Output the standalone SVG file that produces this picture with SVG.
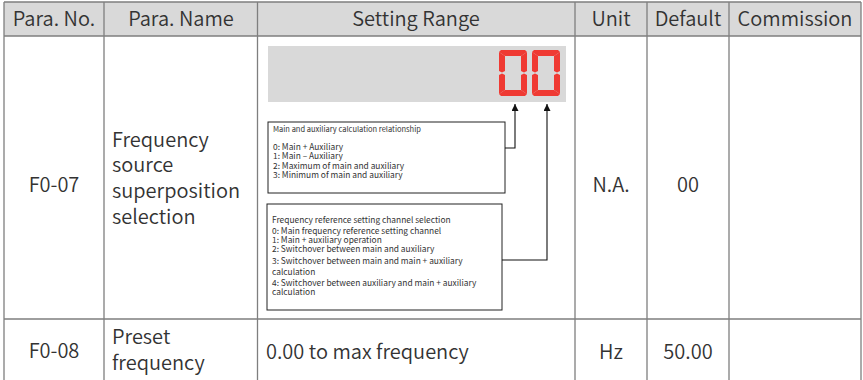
<svg xmlns="http://www.w3.org/2000/svg" width="863" height="380" viewBox="0 0 863 380">
<style>
.grid{stroke:#7f7f7f;stroke-width:1.3;fill:none}
.t{font-family:"Noto Sans CJK SC","Noto Sans",sans-serif;font-weight:350;fill:#333;font-size:20px}
.c{text-anchor:middle}
.s{font-family:"Noto Sans CJK SC","Noto Sans",sans-serif;font-weight:400;fill:#333;font-size:8.4px}
.st{font-size:7.5px}
.box{fill:#fff;stroke:#222;stroke-width:1}
.seg{fill:#ef3a33}
.conn{fill:none;stroke:#111;stroke-width:1.1}
</style>
<defs>
<marker id="ah" viewBox="0 0 10 10" refX="10" refY="5" markerWidth="7" markerHeight="7" orient="auto" markerUnits="userSpaceOnUse">
<path d="M0,0 L10,5 L0,10 Z" fill="#111"/>
</marker>
<g id="d0" class="seg">
<path d="M0,2 L2,0 L26,0 L28,2 L22,6 L6,6 Z"/>
<path d="M0,44 L6,40 L22,40 L28,44 L26,46 L2,46 Z"/>
<path d="M0,2 L6,6 L6,21 L3,22.4 L0,21 Z"/>
<path d="M0,25 L3,23.6 L6,25 L6,40 L0,44 Z"/>
<path d="M28,2 L28,21 L25,22.4 L22,21 L22,6 Z"/>
<path d="M28,25 L28,44 L22,40 L22,25 L25,23.6 Z"/>
</g>
</defs>
<rect width="863" height="380" fill="#fff"/>
<g id="table">
<rect x="4" y="2" width="857" height="34" fill="#d9d9d9"/>
<path class="grid" d="M4,2 H861 M4,36 H861 M4,319 H861 M4,2 V380 M104,2 V380 M257.5,2 V380 M575,2 V380 M647,2 V380 M729,2 V380 M861,2 V380"/>
</g>
<g id="header">
<text class="t c" x="54" y="26">Para. No.</text>
<text class="t c" x="181" y="26">Para. Name</text>
<text class="t c" x="416" y="26">Setting Range</text>
<text class="t c" x="611" y="26">Unit</text>
<text class="t c" x="688" y="26">Default</text>
<text class="t c" x="795" y="26">Commission</text>
</g>
<g id="row-f007">
<text class="t c" x="54" y="192">F0-07</text>
<text class="t" x="112" y="147">Frequency</text>
<text class="t" x="112" y="172">source</text>
<text class="t" x="112" y="198">superposition</text>
<text class="t" x="112" y="224">selection</text>
<text class="t c" x="611" y="192">N.A.</text>
<text class="t c" x="688" y="192">00</text>
</g>
<g id="display">
<rect x="268" y="46" width="298" height="56" fill="#d9d9d9"/>
<use href="#d0" x="499" y="50"/>
<use href="#d0" x="532" y="50"/>
</g>
<g id="box-calc">
<rect class="box" x="268" y="122" width="237" height="71"/>
<text class="s st" x="273" y="132">Main and auxiliary calculation relationship</text>
<text class="s" x="273" y="150">0: Main + Auxiliary</text>
<text class="s" x="273" y="159">1: Main – Auxiliary</text>
<text class="s" x="273" y="168.5">2: Maximum of main and auxiliary</text>
<text class="s" x="273" y="178">3: Minimum of main and auxiliary</text>
</g>
<g id="box-channel">
<rect class="box" x="267" y="204" width="235" height="106"/>
<text class="s" x="272" y="223">Frequency reference setting channel selection</text>
<text class="s" x="272" y="233.5">0: Main frequency reference setting channel</text>
<text class="s" x="272" y="242.5">1: Main + auxiliary operation</text>
<text class="s" x="272" y="251.5">2: Switchover between main and auxiliary</text>
<text class="s" x="272" y="264">3: Switchover between main and main + auxiliary</text>
<text class="s" x="272" y="275">calculation</text>
<text class="s" x="272" y="285.5">4: Switchover between auxiliary and main + auxiliary</text>
<text class="s" x="272" y="295">calculation</text>
</g>
<g id="connectors">
<path class="conn" d="M505,148 H515 V104" marker-end="url(#ah)"/>
<path class="conn" d="M502,260 H547 V104" marker-end="url(#ah)"/>
</g>
<g id="row-f008">
<text class="t c" x="54" y="358">F0-08</text>
<text class="t" x="112" y="344">Preset</text>
<text class="t" x="112" y="370">frequency</text>
<text class="t" x="266" y="359">0.00 to max frequency</text>
<text class="t c" x="611" y="359">Hz</text>
<text class="t c" x="688" y="359">50.00</text>
</g>
</svg>
